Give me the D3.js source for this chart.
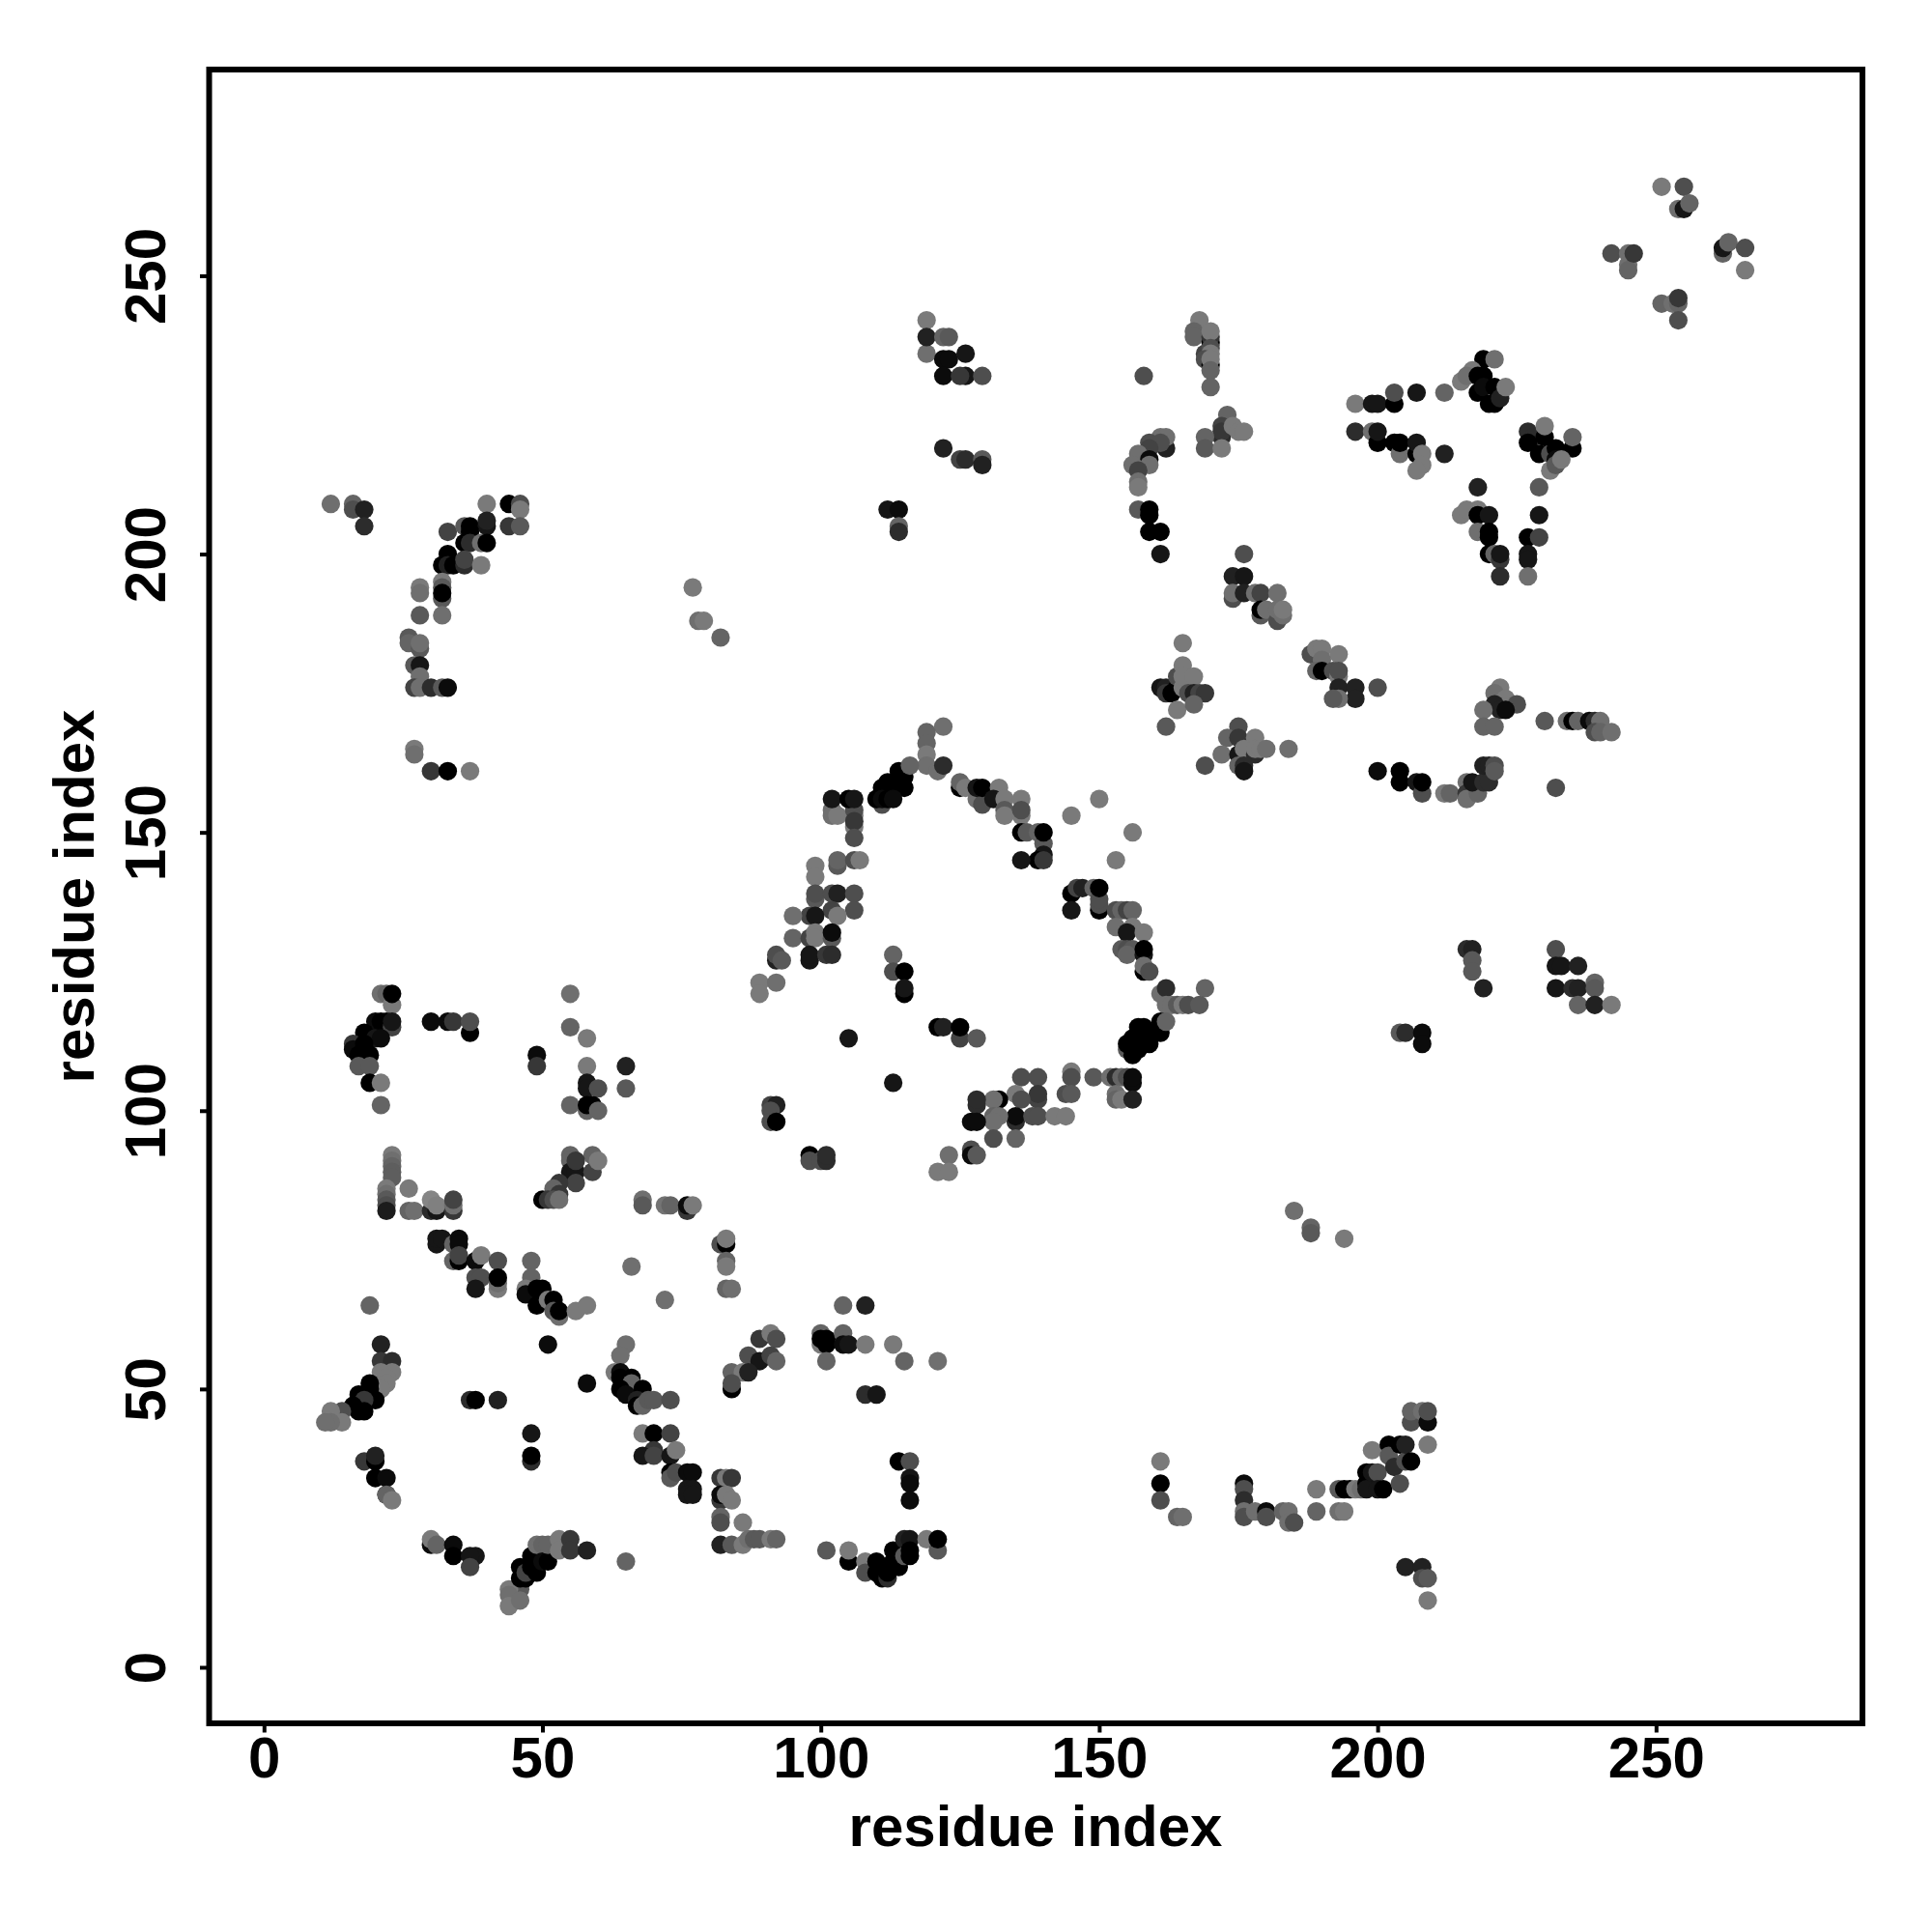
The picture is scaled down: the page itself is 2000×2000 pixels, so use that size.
<!DOCTYPE html>
<html><head><meta charset="utf-8">
<script src="https://d3js.org/d3.v7.min.js"></script>
<style>html,body{margin:0;padding:0;background:#fff}svg{display:block}</style>
</head><body><div id="chart"></div>
<script>
// each contact: [residue x, residue y, shade]
const tickValues=[0,50,100,150,200,250];
const axisTitle="residue index";
const lowerLeftColumn=[[23,92,110],[23,91,100],[23,90,90],[23,89,85],[23,88,85],[22,86,110],[22,85,100],[22,84,80],[22,83,70],[22,82,25],[26,86,110],[26,82,90],[27,82,100],[30,82,40],[31,82,20],[30,84,120],[31,83,115],[34,82,50],[34,83,100],[34,84,60]];
const helixA=[[55,92,90],[55,91,90],[59,92,90],[55,89,20],[56,89,20],[59,89,60],[56,91,50],[60,91,110],[56,87,60],[53,87,50],[52,86,90],[53,85,50],[50,84,0],[51,84,50],[52,84,70],[53,84,100],[68,84,100],[68,83,80],[72,83,105],[73,83,90],[76,82,50],[76,83,10],[77,83,110]];
const strandA=[[31,76,20],[31,77,20],[32,77,20],[34,76,90],[35,77,10],[35,76,10],[34,73,90],[35,73,0],[35,74,60],[38,73,10],[39,74,110],[42,73,70],[38,70,70],[39,70,70],[38,68,20],[42,68,110],[42,69,100],[42,70,0]];
const strandB=[[48,73,90],[48,70,90],[47,68,110],[47,67,10],[49,68,0],[50,68,0],[49,65,0],[51,66,110],[52,66,0],[52,64,80],[53,63,100],[53,64,0],[56,64,110],[58,65,110],[19,65,90],[66,72,100],[72,66,100]];
const turnA=[[21,58,30],[21,55,50],[23,55,40],[23,53,110],[21,53,110],[22,52,110],[22,51,110],[21,50,110],[19,51,0],[19,50,0],[18,49,0],[17,49,0],[20,48,0],[18,48,50],[16,47,0],[17,46,0],[18,46,0],[14,46,70],[12,46,110],[14,44,110],[12,44,100],[11,44,100],[37,48,40],[38,48,0],[42,48,30],[51,58,10],[58,51,10]];
const strandC=[[65,58,100],[64,56,100],[63,53,110],[64,53,10],[64,52,0],[66,52,0],[66,51,90],[64,50,0],[65,49,10],[68,50,0],[67,48,30],[67,47,0],[68,47,90],[69,48,80],[70,48,80],[73,48,70],[48,42,20],[48,37,40],[48,38,0],[68,42,110],[70,42,0],[73,42,60],[70,39,50],[68,38,20],[70,38,60],[73,38,20],[74,39,110],[73,35,0],[73,34,80],[74,35,70],[76,35,10],[77,35,10],[76,32,20],[77,32,20],[76,31,20],[77,31,20]];
const lowerLeftArc=[[18,37,50],[20,37,0],[20,38,30],[20,34,0],[22,34,10],[22,31,0],[22,31,90],[23,30,110],[30,22,10],[30,23,110],[31,22,90],[34,22,10],[34,20,0],[38,20,20],[37,20,20],[37,18,60],[46,14,80],[44,14,110],[44,13,100],[44,11,110],[46,12,100],[46,18,0],[46,16,0],[47,16,0],[47,17,60],[48,20,0],[48,18,0],[49,17,0],[49,22,100],[50,22,90],[50,19,10],[51,19,0],[51,22,90],[53,23,110],[53,21,110],[55,23,50],[55,21,50],[58,21,30],[65,19,90]];
const midBottom=[[82,76,70],[83,76,0],[83,77,110],[83,73,90],[83,72,110],[83,68,90],[84,68,100],[104,65,90],[108,65,30],[100,60,90],[100,58,110],[100,59,0],[101,59,0],[101,58,0],[104,60,90],[104,58,10],[105,58,20],[108,58,110],[113,58,110],[101,55,90],[115,55,90],[121,55,100],[108,49,40],[110,49,20],[89,59,50],[91,60,110],[92,59,70],[87,56,70],[89,55,20],[91,56,60],[92,55,90],[84,53,90],[86,53,110],[87,53,30],[84,50,0],[84,51,70],[114,37,0],[116,37,70],[116,34,20],[116,33,10],[116,30,10]];
const cornerA=[[82,34,50],[83,34,110],[84,34,50],[82,30,50],[82,31,10],[83,31,110],[84,30,110],[82,27,90],[82,26,70],[86,26,110],[82,22,30],[84,22,80],[86,22,110],[87,23,100],[88,23,80],[89,23,80],[91,23,110],[92,23,90],[101,21,80],[105,19,0],[105,21,110],[108,19,110],[108,17,70],[110,19,0],[110,17,0],[111,16,0],[112,16,40],[112,17,0],[113,21,0],[113,19,0],[114,18,0],[115,23,30],[115,20,80],[116,23,20],[116,21,0],[116,20,0],[119,23,110],[121,21,80],[121,23,0]];
const leftUpper=[[21,121,100],[22,121,90],[23,119,110],[23,121,0],[20,116,10],[21,116,0],[22,116,0],[23,115,60],[23,116,20],[18,114,0],[20,113,20],[21,113,10],[16,112,50],[16,111,10],[18,112,0],[18,111,0],[17,110,0],[19,110,0],[17,108,80],[19,108,80],[19,105,0],[21,105,110],[21,101,90],[30,116,10],[33,116,10],[34,116,50],[37,114,0],[37,116,70],[49,110,10],[49,108,50],[55,121,100],[55,115,90],[58,113,110],[58,108,110],[65,108,30],[65,104,80],[58,105,20],[58,104,20],[60,104,70],[55,101,90],[58,100,90],[58,101,0],[59,101,0],[60,100,90]];
const bigArcTop=[[122,169,100],[119,168,90],[119,166,90],[119,164,110],[119,162,100],[121,161,100],[122,162,40],[114,161,0],[114,160,0],[115,160,0],[112,159,0],[114,158,0],[115,158,0],[111,158,0],[111,155,70],[110,156,0],[111,156,10],[112,156,0],[113,156,10],[116,162,90],[102,154,100],[102,153,100],[103,153,110],[102,156,20],[106,153,110],[106,154,70],[105,156,0],[106,156,20],[106,151,110],[106,152,50],[106,149,70],[103,144,80],[103,145,90],[106,145,70],[107,145,110],[99,144,110],[99,142,110],[99,138,80],[99,139,70],[102,139,70],[103,139,30],[106,139,70],[106,136,70],[102,136,60],[103,135,110],[98,135,60],[99,135,20],[95,135,100],[95,131,90],[98,131,60],[99,132,110],[99,131,110],[102,131,80],[102,132,10],[92,127,30],[92,128,70],[93,127,80],[98,127,20],[98,128,20],[101,128,50],[102,128,40],[89,123,110],[92,123,100],[89,121,110]];
const innerMid=[[113,128,90],[113,125,70],[115,125,0],[115,121,0],[115,122,20],[105,113,20],[113,105,20],[121,115,0],[122,115,30],[125,113,60],[125,115,0],[128,113,80]];
const bigArcRight=[[125,158,0],[125,159,90],[126,158,110],[129,156,70],[128,156,100],[129,155,70],[128,158,20],[129,158,0],[132,158,110],[131,156,20],[133,156,110],[133,154,80],[133,153,110],[136,156,110],[136,153,110],[136,154,70],[136,150,0],[137,150,80],[139,150,90],[140,148,80],[140,150,0],[140,146,20],[139,145,0],[140,145,50],[136,145,20],[145,153,110],[150,156,110],[156,150,110],[153,145,110],[145,139,0],[146,140,60],[147,140,30],[145,136,20],[149,140,90],[150,136,0],[150,137,70],[150,138,70],[150,140,0],[153,136,70],[154,136,90],[155,136,60],[156,136,90],[153,133,100],[156,133,110],[155,132,20],[158,132,110],[154,129,80],[155,129,70],[156,129,80],[155,128,90],[158,128,20],[158,129,0],[158,125,0],[158,126,100],[159,125,70],[161,121,100],[162,122,40],[169,122,90],[162,119,100],[163,119,100],[164,119,80],[165,119,110],[166,119,70],[168,119,80]];
const bigArcLower=[[161,114,0],[161,116,0],[162,116,90],[157,115,0],[158,115,0],[159,114,0],[155,111,80],[155,112,0],[156,113,0],[157,113,0],[159,112,0],[156,110,0],[157,111,0],[145,107,110],[145,106,70],[144,103,70],[145,103,80],[149,106,80],[152,106,100],[153,106,40],[154,106,90],[155,106,70],[156,105,10],[156,106,10],[153,103,100],[153,102,90],[154,102,110],[156,102,30],[136,106,70],[139,106,70],[139,102,60],[139,103,50],[135,103,110],[136,102,70],[132,102,0],[131,102,100],[128,101,40],[128,102,40],[135,98,40],[135,99,10],[138,99,70],[139,99,70],[142,99,110],[144,99,110],[131,99,90],[132,99,100],[131,98,100],[127,98,10],[128,98,10],[131,95,70],[135,95,90],[123,92,100],[127,93,70],[127,92,10],[128,92,80],[121,89,110],[123,89,110],[91,101,60],[92,101,30],[91,100,70],[91,98,70],[92,98,0],[98,92,0],[98,91,70],[100,91,70],[101,91,40],[101,92,40]];
const topRightGroup=[[251,266,110],[255,266,70],[254,262,100],[255,262,20],[256,263,90],[242,254,70],[245,254,100],[245,252,100],[245,251,90],[246,254,50],[262,254,90],[262,255,20],[263,256,90],[266,255,70],[266,251,110],[251,245,90],[253,245,100],[254,245,90],[254,246,50],[254,242,70]];
const topMidGroup=[[119,242,110],[119,236,100],[119,239,30],[122,239,90],[123,239,80],[122,235,10],[123,235,10],[126,236,20],[126,232,20],[122,232,10],[125,232,50],[129,232,70],[122,219,30],[125,217,60],[126,217,40],[129,217,80],[129,216,30],[112,208,20],[114,208,10],[114,205,90],[114,204,40],[77,194,110],[78,188,100],[79,188,110],[82,185,90],[185,82,100],[188,79,90],[188,78,80],[194,77,110]];
const rightColumn=[[168,242,110],[167,240,90],[167,239,90],[170,238,0],[170,239,50],[170,240,110],[169,236,60],[170,237,70],[170,236,110],[169,235,70],[170,234,0],[170,235,110],[170,233,90],[170,230,90],[158,232,70],[173,225,90],[172,223,60],[172,221,40],[172,222,50],[174,223,110],[175,222,110],[176,222,110],[169,221,90],[169,219,80],[172,219,110],[162,219,30],[161,221,100],[162,221,100],[159,220,70],[161,220,70],[159,219,60],[157,218,100],[159,217,10],[159,216,100],[156,216,100],[157,215,60],[157,213,100],[157,212,110],[157,208,80],[159,208,0],[159,207,0],[159,204,0],[161,204,0],[161,200,20]];
const upperRightA=[[196,227,110],[199,227,20],[200,227,20],[203,227,0],[203,229,70],[207,229,20],[212,229,90],[196,222,40],[199,222,100],[200,220,0],[200,222,20],[203,220,0],[204,218,100],[204,220,0],[207,218,0],[207,220,20],[208,218,110],[208,216,110],[207,215,110],[212,218,30],[219,235,0],[221,235,100],[217,233,110],[215,231,110],[216,232,100],[218,232,0],[219,232,0],[218,229,0],[219,230,10],[221,230,0],[220,227,0],[221,227,0],[222,228,30],[223,230,110]];
const upperRightB=[[218,212,30],[229,212,80],[215,207,110],[216,208,110],[218,208,110],[218,207,0],[220,207,20],[218,204,100],[220,204,0],[220,203,0],[220,200,0],[221,200,90],[222,199,50],[222,200,20],[222,196,40],[227,203,0],[229,203,60],[227,200,20],[227,199,20],[227,196,100],[229,207,20],[227,222,40],[228,221,40],[227,220,0],[230,221,0],[230,223,110],[229,218,0],[231,218,70],[232,219,0],[232,217,10],[231,215,110],[232,216,80],[235,219,0],[235,221,90],[233,217,110]];
const midRightA=[[176,200,70],[174,196,30],[176,196,20],[174,192,70],[174,193,100],[176,193,30],[178,193,100],[179,193,60],[182,193,100],[179,189,80],[179,190,0],[180,190,100],[182,188,70],[182,190,100],[183,189,100],[183,190,110],[188,182,70],[189,183,110],[190,183,110],[193,182,110],[190,181,100],[189,179,90],[190,179,0],[192,179,70],[193,178,110],[193,179,70],[193,176,30],[196,176,30],[196,174,30],[193,174,100],[192,174,80],[200,176,70]];
const midRightB=[[165,184,110],[161,176,20],[162,176,30],[162,175,50],[164,176,0],[163,175,0],[164,178,70],[165,176,110],[165,180,110],[165,178,110],[167,178,110],[166,175,70],[167,175,30],[168,175,60],[169,175,50],[164,172,110],[167,173,90],[162,169,80],[175,169,70],[173,167,90],[175,167,50],[178,167,110],[172,164,100],[175,164,20],[176,165,110],[178,164,40],[178,165,110],[179,165,110],[180,165,100],[184,165,100],[169,162,70],[175,162,90],[176,162,40],[176,161,20]];
const midRightC=[[222,176,110],[221,175,100],[223,174,110],[225,173,70],[221,173,30],[222,172,30],[223,172,10],[219,172,100],[219,169,90],[221,169,90],[230,170,80],[234,170,100],[235,170,0],[236,170,90],[238,170,10],[239,170,40],[240,170,100],[239,168,70],[240,168,90],[242,168,100],[200,161,10],[204,161,0],[204,159,0],[207,159,20],[208,157,70],[208,159,0],[212,157,110],[213,157,90],[216,159,100],[216,157,50],[216,156,100],[218,157,90],[217,159,20],[219,159,40],[220,159,40],[219,162,30],[220,162,30],[221,162,70],[221,161,80],[232,158,70]];
const lowerRightA=[[216,129,40],[217,129,30],[217,127,80],[217,125,80],[219,122,30],[232,129,70],[232,126,20],[233,126,20],[232,122,20],[236,126,30],[235,122,40],[236,122,30],[239,123,90],[239,122,80],[236,119,90],[239,119,30],[242,119,110],[204,114,80],[205,114,40],[208,114,10],[208,112,10]];
const lowerRightB=[[161,37,110],[161,33,0],[161,30,70],[164,27,90],[165,27,100],[176,33,10],[176,32,70],[176,30,40],[176,28,100],[176,27,70],[178,28,100],[180,28,10],[180,27,70],[183,28,90],[184,28,100],[184,26,100],[185,26,70],[189,32,110],[189,28,90],[193,32,80],[193,28,100],[194,28,110],[194,32,0],[195,32,0],[196,32,110],[197,32,100],[198,33,0],[198,35,0],[198,32,20],[199,35,20],[200,35,70],[200,32,20],[199,39,110],[201,32,0],[202,40,0],[202,38,80],[203,36,40],[204,40,0],[204,33,70],[205,37,70],[205,40,30],[206,37,0],[206,44,70],[206,46,90],[208,46,100],[209,44,10],[209,46,70],[209,40,110],[205,18,30],[208,18,30],[208,16,70],[209,16,80],[209,12,110]];
const leftArc=[[12,209,100],[16,209,90],[16,208,70],[18,208,30],[18,205,40],[40,209,110],[44,209,0],[46,209,70],[46,208,110],[44,205,50],[46,205,80],[33,204,60],[36,205,80],[37,205,0],[40,205,20],[40,206,30],[37,204,0],[36,202,0],[37,202,40],[39,202,100],[40,202,0],[33,200,0],[32,198,0],[33,198,30],[34,198,0],[36,198,40],[36,199,60],[39,198,110],[32,195,110],[32,194,80],[32,192,80],[32,193,0],[28,194,110],[28,193,100],[28,189,80],[32,189,100],[26,185,80],[26,184,90],[28,183,80],[28,184,100],[27,180,80],[28,180,20],[28,178,100],[27,176,60],[28,176,100],[30,176,40],[32,176,80],[33,176,10],[27,165,110],[27,164,100],[30,161,50],[33,161,0],[37,161,110]];

const contacts=[].concat(lowerLeftColumn,helixA,strandA,strandB,turnA,strandC,lowerLeftArc,midBottom,cornerA,leftUpper,bigArcTop,innerMid,bigArcRight,bigArcLower,topRightGroup,topMidGroup,rightColumn,upperRightA,upperRightB,midRightA,midRightB,midRightC,lowerRightA,lowerRightB,leftArc);

const W=2000,H=2000,L=216.5,R=1928,T=72,B=1784;
const x=d3.scaleLinear().domain([-9.85,287.07]).range([L,R]);
const y=d3.scaleLinear().domain([-10.07,287.05]).range([B,T]);
const shade=d3.scaleLinear().domain([0,110]).range(["#000000","#7a7a7a"]);
const FONT='"Liberation Sans",Arial,sans-serif';
const svg=d3.select("#chart").append("svg").attr("width",W).attr("height",H).attr("viewBox",`0 0 ${W} ${H}`);
svg.append("rect").attr("width",W).attr("height",H).attr("fill","#fff");

svg.append("g").selectAll("circle").data(contacts).join("circle")
  .attr("cx",d=>x(d[0])).attr("cy",d=>y(d[1])).attr("r",9.6).attr("fill",d=>shade(d[2]));

svg.append("rect").attr("x",L).attr("y",T).attr("width",R-L).attr("height",B-T)
  .attr("fill","none").attr("stroke","#000").attr("stroke-width",6);

const gx=svg.append("g").attr("transform",`translate(0,${B})`)
  .call(d3.axisBottom(x).tickValues(tickValues).tickFormat(d3.format("d")).tickSize(9.5));
const gy=svg.append("g").attr("transform",`translate(${L},0)`)
  .call(d3.axisLeft(y).tickValues(tickValues).tickFormat(d3.format("d")).tickSize(9.5));
[gx,gy].forEach(g=>{
  g.select(".domain").remove();
  g.selectAll("line").attr("stroke","#000").attr("stroke-width",4);
  g.selectAll("text").attr("fill","#000").style("font-family",FONT).style("font-weight","bold").style("font-size","60px");
});
gx.selectAll("text").attr("y",56).attr("dy",0).attr("text-anchor","middle");
gy.selectAll("text").attr("x",0).attr("y",0).attr("dy",0).attr("text-anchor","middle")
  .attr("transform","translate(-45.5,0) rotate(-90)");

svg.append("text").attr("x",1072).attr("y",1911).attr("text-anchor","middle")
  .style("font-family",FONT).style("font-weight","bold").style("font-size","60px").text(axisTitle);
svg.append("text").attr("transform","translate(97,928) rotate(-90)").attr("text-anchor","middle")
  .style("font-family",FONT).style("font-weight","bold").style("font-size","60px").text(axisTitle);
</script></body></html>
